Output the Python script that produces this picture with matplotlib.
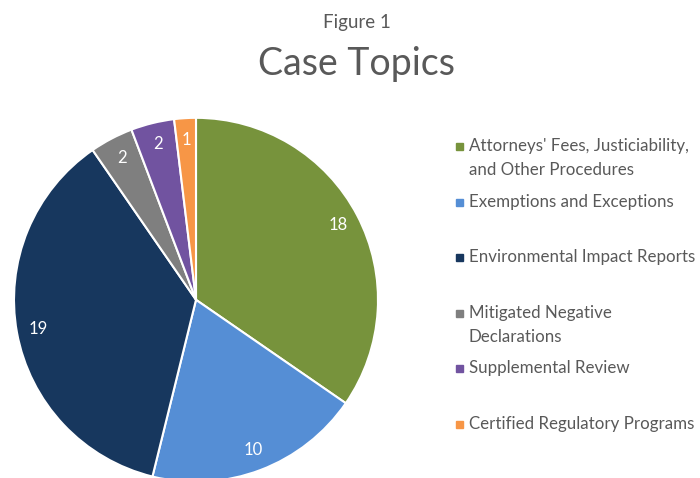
import matplotlib.pyplot as plt
from matplotlib.patches import Rectangle

plt.rcParams['font.family'] = ['Lato', 'DejaVu Sans']

# Données du graphique
topics = ["Attorneys' Fees, Justiciability,\nand Other Procedures",
          "Exemptions and Exceptions",
          "Environmental Impact Reports",
          "Mitigated Negative\nDeclarations",
          "Supplemental Review",
          "Certified Regulatory Programs"]
counts = [18, 10, 19, 2, 2, 1]
colors = ['#77933C', '#558ED5', '#17375E', '#7F7F7F', '#7153A0', '#F79646']

text_color = '#595959'

fig = plt.figure(figsize=(7, 4.78), dpi=100)
ax = fig.add_axes([0.02, -0.008, 0.52, 0.7615])

wedges, texts = ax.pie(counts, colors=colors, startangle=90, counterclock=False,
                       labels=[str(c) for c in counts], labeldistance=0.88,
                       wedgeprops=dict(edgecolor='white', linewidth=1.5))
for t in texts:
    t.set_color('white')
    t.set_fontsize(12)
    t.set_ha('center')
    t.set_va('center')
ax.set_xlim(-1, 1)
ax.set_ylim(-1, 1)
ax.set_aspect('equal')

# Titre
fig.text(0.51, 0.953, 'Figure 1', ha='center', va='center', fontsize=13.5, color=text_color)
fig.text(0.51, 0.866, 'Case Topics', ha='center', va='center', fontsize=27, color=text_color)

# Légende
y0 = 146
step = 55.6
for i, (lab, col) in enumerate(zip(topics, colors)):
    y = y0 + i * step
    fig.patches.append(Rectangle((456 / 700, 1 - (y + 4) / 478), 7 / 700, 7 / 478,
                                 transform=fig.transFigure, color=col))
    fig.text(469 / 700, 1 - (y - 8) / 478, lab, ha='left', va='top',
             fontsize=12.2, color=text_color, linespacing=1.65)

fig.savefig('out.png', dpi=100)
